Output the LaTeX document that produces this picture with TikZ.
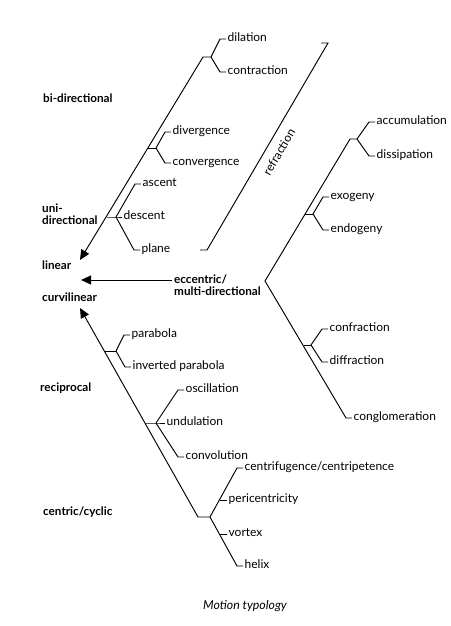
\documentclass[tikz,border=0pt]{standalone}
\usepackage{fontspec}
\setmainfont{Lato}
\usetikzlibrary{arrows.meta, positioning, calc}

\begin{document}
\begin{tikzpicture}[
  x=1pt, y=-1pt,
  font=\fontsize{12}{14}\selectfont,
  leaf/.style={anchor=west, inner sep=1.5pt, text height=7pt, text depth=2pt},
  cat/.style={anchor=west, inner sep=0pt, align=left,
              font=\fontsize{11.7}{12.5}\selectfont\bfseries},
  lin/.style={line width=0.95pt, line join=miter},
  arr/.style={lin, -{Triangle[length=10pt, width=9pt]}},
]
\useasboundingbox (0,0) rectangle (450,626);

% --- Categorias (izquierda) ---
\node[cat] (bi)      at (43,98)  {bi-directional};
\node[cat] (uni)     at (42,214) {uni-\\directional};
\node[cat] (linear)  at (42,265) {linear};
\node[cat] (curv)    at (42,297) {curvilinear};
\node[cat] (recip)   at (40,388) {reciprocal};
\node[cat] (centric) at (43,512) {centric/cyclic};

% --- Lineal: tronco y ramas ---
\coordinate (lintip) at (80,260);
\coordinate (t1) at (203,57);
\coordinate (f1) at (211,57);
\coordinate (s2) at (148,148);
\coordinate (f2) at (156,148);
\coordinate (s3) at (107,217);
\coordinate (f3) at (116,217);

\node[leaf] (dil) at (226,39)  {dilation};
\node[leaf] (con) at (226,72)  {contraction};
\node[leaf] (div) at (171,132) {divergence};
\node[leaf] (cvg) at (171,163) {convergence};
\node[leaf] (asc) at (141,184) {ascent};
\node[leaf] (des) at (122,217) {descent};
\node[leaf] (pla) at (140,250) {plane};

\draw[arr] (f1) -- (t1) -- (lintip);
\draw[lin] (f1) -- ([xshift=-6pt]dil.west) -- (dil.west);
\draw[lin] (f1) -- ([xshift=-6pt]con.west) -- (con.west);
\draw[lin] (s2) -- (f2);
\draw[lin] (f2) -- ([xshift=-6pt]div.west) -- (div.west);
\draw[lin] (f2) -- ([xshift=-6pt]cvg.west) -- (cvg.west);
\draw[lin] (s3) -- (f3) -- (des.west);
\draw[lin] (f3) -- ([xshift=-6pt]asc.west) -- (asc.west);
\draw[lin] (f3) -- ([xshift=-6pt]pla.west) -- (pla.west);

% --- Corchete de refraccion ---
\coordinate (r1) at (200,250);
\coordinate (r2) at (207,250);
\coordinate (r3) at (328,43);
\coordinate (r4) at (321,43);
\draw[lin] (r1) -- (r2) -- (r3) -- (r4);
\node[rotate=59.7, inner sep=0pt] (refr) at (279,152) {refraction};

% --- Excentrico / multidireccional ---
\node[cat] (ecc) at (174,285) {eccentric/\\multi-directional};
\coordinate (ecctip) at (81,280);
\draw[arr] ([xshift=-2pt, yshift=5pt]ecc.west) -- (ecctip);

\coordinate (v)  at (265,281);
\coordinate (t2) at (350,139);
\coordinate (f4) at (357,139);
\coordinate (s5) at (305,214);
\coordinate (f5) at (313,214);
\coordinate (s6) at (304,345);
\coordinate (f6) at (311,345);

\node[leaf] (acc)  at (375,122) {accumulation};
\node[leaf] (dis)  at (375,156) {dissipation};
\node[leaf] (exo)  at (329,197) {exogeny};
\node[leaf] (endo) at (329,230) {endogeny};
\node[leaf] (cfr)  at (328,329) {confraction};
\node[leaf] (dif)  at (328,362) {diffraction};
\node[leaf] (cgl)  at (352,418) {conglomeration};

\draw[lin] (f4) -- (t2) -- (v) -- ([xshift=-6pt]cgl.west) -- (cgl.west);
\draw[lin] (f4) -- ([xshift=-6pt]acc.west) -- (acc.west);
\draw[lin] (f4) -- ([xshift=-6pt]dis.west) -- (dis.west);
\draw[lin] (s5) -- (f5);
\draw[lin] (f5) -- ([xshift=-6pt]exo.west) -- (exo.west);
\draw[lin] (f5) -- ([xshift=-6pt]endo.west) -- (endo.west);
\draw[lin] (s6) -- (f6);
\draw[lin] (f6) -- ([xshift=-6pt]cfr.west) -- (cfr.west);
\draw[lin] (f6) -- ([xshift=-6pt]dif.west) -- (dif.west);

% --- Curvilineo: tronco y ramas ---
\coordinate (curtip) at (80,308);
\coordinate (t4) at (198,517);
\coordinate (f9) at (210,517);
\coordinate (s7) at (105,351);
\coordinate (f7) at (116,351);
\coordinate (s8) at (145,423);
\coordinate (f8) at (156,423);
\coordinate (p1) at (219.5,500);
\coordinate (p2) at (219.5,534);

\node[leaf] (par)  at (130,335) {parabola};
\node[leaf] (ipar) at (131,367) {inverted parabola};
\node[leaf] (osc)  at (184,390) {oscillation};
\node[leaf] (und)  at (165,423) {undulation};
\node[leaf] (cvl)  at (184,457) {convolution};
\node[leaf] (cfg)  at (243,468) {centrifugence/centripetence};
\node[leaf] (peri) at (227,500) {pericentricity};
\node[leaf] (vor)  at (227,534) {vortex};
\node[leaf] (hel)  at (243,566) {helix};

\draw[arr] (f9) -- (t4) -- (curtip);
\draw[lin] (s7) -- (f7);
\draw[lin] (f7) -- ([xshift=-6pt]par.west) -- (par.west);
\draw[lin] (f7) -- ([xshift=-6pt]ipar.west) -- (ipar.west);
\draw[lin] (s8) -- (f8) -- (und.west);
\draw[lin] (f8) -- ([xshift=-6pt]osc.west) -- (osc.west);
\draw[lin] (f8) -- ([xshift=-6pt]cvl.west) -- (cvl.west);
\draw[lin] (f9) -- ([xshift=-6pt]cfg.west) -- (cfg.west);
\draw[lin] (f9) -- ([xshift=-6pt]hel.west) -- (hel.west);
\draw[lin] (p1) -- (peri.west);
\draw[lin] (p2) -- (vor.west);

% --- Titulo ---
\node[font=\fontsize{12.3}{14}\selectfont\itshape] (title) at (245,606) {Motion typology};

\end{tikzpicture}
\end{document}
